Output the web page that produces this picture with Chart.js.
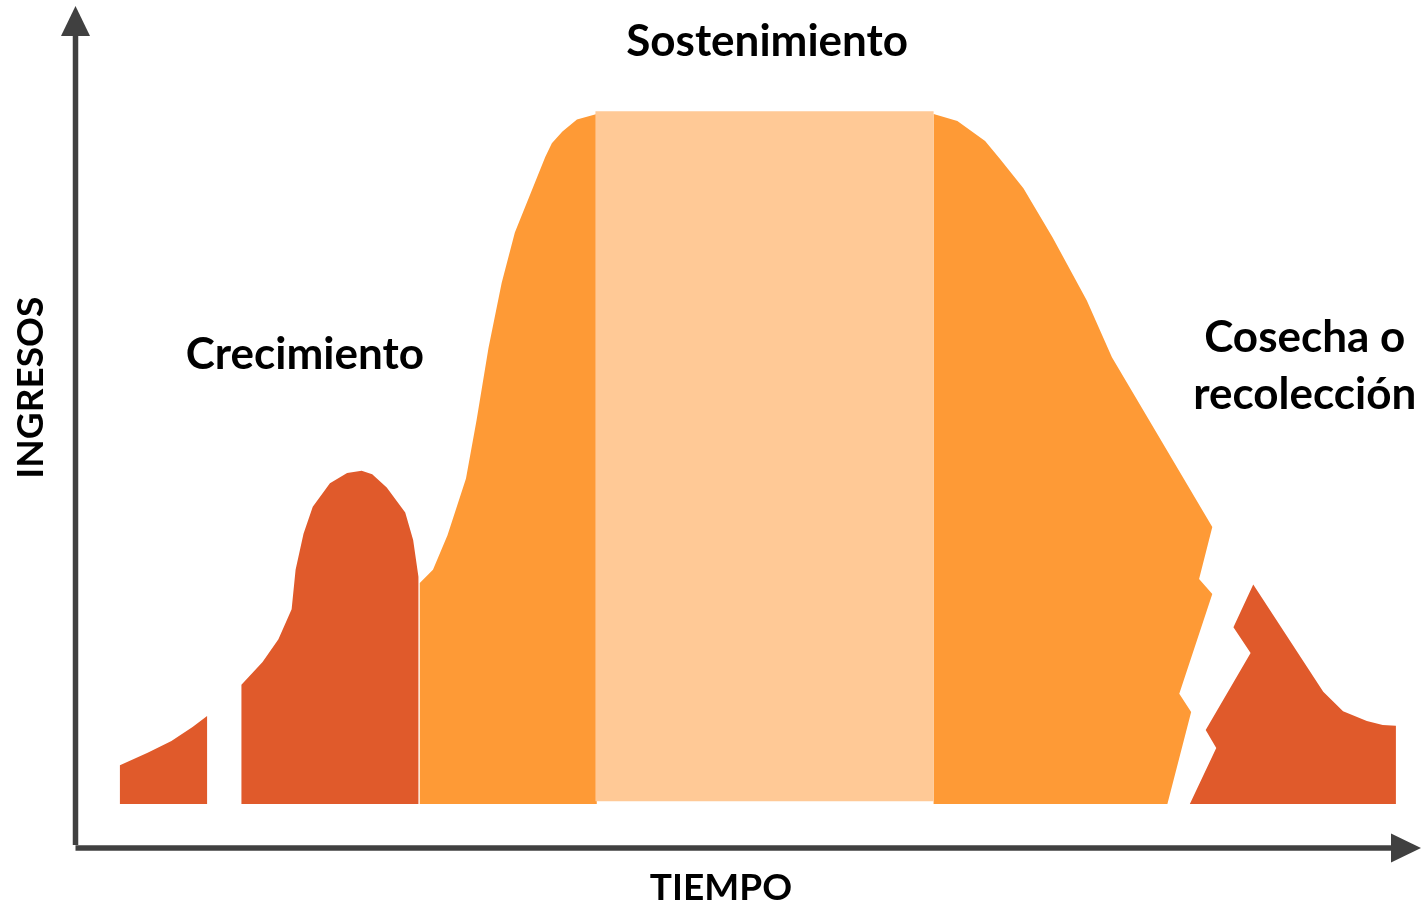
<!DOCTYPE html>
<html lang="es">
<head>
<meta charset="utf-8">
<title>Ciclo de ingresos</title>
<script src="https://cdn.jsdelivr.net/npm/chart.js@4.4.1/dist/chart.umd.min.js"></script>
<style>
  html, body { margin: 0; padding: 0; background: #ffffff; }
  #wrap { width: 1422px; height: 905px; position: relative; }
</style>
</head>
<body>
<div id="wrap"><canvas id="c"></canvas></div>
<script>
// Etapas del ciclo: tiempo (0-100) frente a ingresos (0-100, 100 = meseta).
const inicioX = [3.4, 3.4, 5.5, 7.3, 8.9, 10.0, 10.0];
const inicioY = [0, 5.6, 7.4, 9.1, 11.1, 12.7, 0];

const crecimientoX = [12.6, 12.6, 14.2, 15.4, 16.4, 16.7, 17.3, 18.0, 19.3, 20.6, 21.7, 22.5, 23.6, 25.0, 25.6, 26.0, 26.0];
const crecimientoY = [0, 17.2, 20.5, 23.8, 28.1, 33.8, 39.0, 42.9, 46.3, 47.8, 48.1, 47.6, 45.7, 42.1, 38.1, 32.8, 0];

const subidaX = [26.1, 26.1, 27.1, 28.2, 29.6, 30.4, 31.3, 32.3, 33.3, 35.6, 36.1, 36.9, 38.0, 39.5, 39.5];
const subidaY = [0, 31.9, 33.8, 38.8, 47.0, 55.4, 65.8, 75.2, 82.5, 93.4, 95.4, 97.1, 98.8, 99.6, 0];

const mesetaX = [39.4, 39.4, 65.0, 65.0];
const mesetaY = [0.4, 100, 100, 0.4];

const bajadaX = [65.0, 65.0, 66.8, 68.9, 70.0, 71.8, 74.0, 76.6, 78.5, 86.1, 85.1, 86.1, 83.6, 84.5, 82.7];
const bajadaY = [0, 99.6, 98.6, 95.7, 93.2, 88.9, 81.8, 72.7, 64.5, 40.0, 32.5, 30.3, 15.9, 13.3, 0];

const cosechaX = [84.4, 86.4, 85.6, 89.0, 87.7, 89.2, 94.5, 96.0, 97.8, 99.0, 100.0, 100.0];
const cosechaY = [0, 8.1, 10.7, 21.8, 25.5, 31.7, 16.2, 13.4, 12.0, 11.4, 11.3, 0];

const etiquetas = ['Sostenimiento', 'Crecimiento', 'Cosecha o', 'recolección'];
const tituloX = 'TIEMPO';
const tituloY = 'INGRESOS';

const ROJO = '#E05A2B';
const NARANJA = '#FE9A36';
const CLARO = '#FFC996';
const EJE = '#404040';

function puntos(xs, ys) {
  return xs.map((x, i) => ({ x: x, y: ys[i] }));
}

// Cada etapa es un polígono cerrado relleno por dentro.
function forma(xs, ys, color) {
  return {
    data: puntos(xs, ys),
    showLine: true,
    tension: 0,
    pointRadius: 0,
    borderWidth: 1,
    borderColor: 'rgba(0,0,0,0)',
    backgroundColor: color,
    fill: 'shape'
  };
}

// Ejes con flechas y rótulos dibujados sobre las escalas del gráfico.
const ejesYRotulos = {
  id: 'ejesYRotulos',
  afterDraw(chart) {
    const { ctx, chartArea: a, scales } = chart;
    const sx = scales.x, sy = scales.y;
    const ejeX = a.left + 0.5;
    const ejeY = a.bottom;
    const flecha = 30, media = 14.5;

    ctx.save();
    ctx.fillStyle = EJE;
    ctx.strokeStyle = EJE;
    ctx.lineWidth = 5.5;
    ctx.lineCap = 'butt';

    // eje vertical
    ctx.beginPath();
    ctx.moveTo(ejeX, ejeY - 3);
    ctx.lineTo(ejeX, a.top + flecha);
    ctx.stroke();
    ctx.beginPath();
    ctx.moveTo(ejeX, a.top);
    ctx.lineTo(ejeX - media, a.top + flecha);
    ctx.lineTo(ejeX + media, a.top + flecha);
    ctx.closePath();
    ctx.fill();

    // eje horizontal
    ctx.beginPath();
    ctx.moveTo(ejeX, ejeY);
    ctx.lineTo(a.right - flecha, ejeY);
    ctx.stroke();
    ctx.beginPath();
    ctx.moveTo(a.right, ejeY);
    ctx.lineTo(a.right - flecha, ejeY - media);
    ctx.lineTo(a.right - flecha, ejeY + media);
    ctx.closePath();
    ctx.fill();

    // rótulos de las etapas
    ctx.fillStyle = '#000000';
    ctx.textAlign = 'center';
    ctx.textBaseline = 'middle';
    ctx.font = 'bold 44px Lato, "Open Sans", sans-serif';
    ctx.fillText(etiquetas[0], sx.getPixelForValue(52.4), sy.getPixelForValue(110.0));
    ctx.fillText(etiquetas[1], sx.getPixelForValue(17.4), sy.getPixelForValue(64.9));
    ctx.fillText(etiquetas[2], sx.getPixelForValue(93.1), sy.getPixelForValue(67.3));
    ctx.fillText(etiquetas[3], sx.getPixelForValue(93.1), sy.getPixelForValue(59.0));

    // títulos de los ejes
    ctx.font = 'bold 37px Lato, "Open Sans", sans-serif';
    ctx.fillText(tituloX, sx.getPixelForValue(48.9), a.bottom + 40);
    ctx.save();
    ctx.translate(a.left - 44, sy.getPixelForValue(60.1));
    ctx.rotate(-Math.PI / 2);
    ctx.fillText(tituloY, 0, 0);
    ctx.restore();

    ctx.restore();
  }
};

new Chart(document.getElementById('c'), {
  type: 'scatter',
  data: {
    datasets: [
      forma(mesetaX, mesetaY, CLARO),
      forma(inicioX, inicioY, ROJO),
      forma(crecimientoX, crecimientoY, ROJO),
      forma(subidaX, subidaY, NARANJA),
      forma(bajadaX, bajadaY, NARANJA),
      forma(cosechaX, cosechaY, ROJO)
    ]
  },
  options: {
    responsive: true,
    maintainAspectRatio: false,
    animation: false,
    layout: { padding: { left: 75, right: 1, top: 6, bottom: 57 } },
    plugins: {
      legend: { display: false },
      tooltip: { enabled: false }
    },
    scales: {
      x: { type: 'linear', min: 0, max: 101.9, display: false },
      y: { type: 'linear', min: -6.35, max: 115.2, display: false }
    }
  },
  plugins: [ejesYRotulos]
});
</script>
</body>
</html>
